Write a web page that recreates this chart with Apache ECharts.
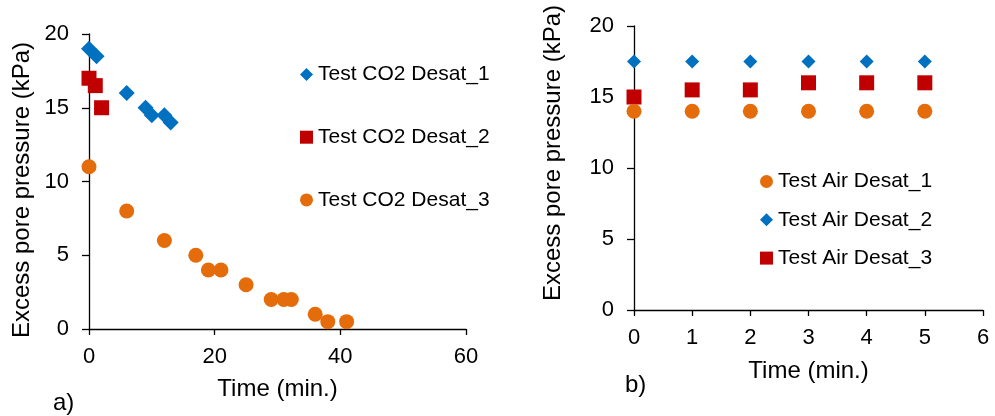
<!DOCTYPE html>
<html>
<head>
<meta charset="utf-8">
<script src="https://cdn.jsdelivr.net/npm/echarts@6/dist/echarts.min.js"></script>
<style>html,body{margin:0;padding:0;background:#fff}#c{width:995px;height:416px}</style>
</head>
<body>
<div id="c"></div>
<script>
// Panel a) CO2 desaturation tests: [time (min), excess pore pressure (kPa)]
var co2Desat1 = [[0,19],[1.2,18.5],[6,16],[9,15],[10,14.5],[12,14.5],[13,14]];
var co2Desat2 = [[0,17],[1,16.5],[2,15]];
var co2Desat3 = [[0,11],[6,8],[12,6],[17,5],[19,4],[21,4],[25,3],[29,2],[31,2],[32.2,2],[36,1],[38,0.5],[41,0.5]];
// Panel b) Air desaturation tests
var airTimes = [0,1,2,3,4,5];
var airDesat1 = [14,14,14,14,14,14];
var airDesat2 = [17.5,17.5,17.5,17.5,17.5,17.5];
var airDesat3 = [15,15.5,15.5,16,16,16];

var names = {
  c1:'Test CO2 Desat_1', c2:'Test CO2 Desat_2', c3:'Test CO2 Desat_3',
  a1:'Test Air Desat_1', a2:'Test Air Desat_2', a3:'Test Air Desat_3'
};
var BLUE='#0070C0', RED='#C00000', ORANGE='#E46C0A';
var FONT='Liberation Sans, Arial, sans-serif';

function pair(xs, ys){ return xs.map(function(x,i){return [x, ys[i]];}); }

function xAxisCfg(gi, max, interval, gap){
  return {
    gridIndex: gi, type:'value', min:0, max:max, interval:interval,
    name:'Time (min.)', nameLocation:'middle', nameGap:gap,
    nameTextStyle:{fontFamily:FONT, fontSize:24, color:'#000'},
    axisLine:{show:true, onZero:false, lineStyle:{color:'#000', width:1.3}},
    axisTick:{show:true, inside:false, length:6, lineStyle:{color:'#000', width:1.3}},
    axisLabel:{fontFamily:FONT, fontSize:22, color:'#000', margin:17},
    splitLine:{show:false}
  };
}
function yAxisCfg(gi){
  return {
    gridIndex: gi, type:'value', min:0, max:20, interval:5,
    axisLine:{show:true, onZero:false, lineStyle:{color:'#000', width:1.3}},
    axisTick:{show:true, inside:false, length:7, lineStyle:{color:'#000', width:1.3}},
    axisLabel:{fontFamily:FONT, fontSize:22, color:'#000', margin:20},
    splitLine:{show:false}
  };
}

var chart = echarts.init(document.getElementById('c'), null, {renderer:'canvas'});
chart.setOption({
  animation:false,
  backgroundColor:'#fff',
  grid:[
    {left:89, right:529, top:34, bottom:87},
    {left:634, right:12, top:26, bottom:106}
  ],
  xAxis:[xAxisCfg(0,60,20,48), xAxisCfg(1,6,1,49)],
  yAxis:[yAxisCfg(0), yAxisCfg(1)],
  legend:[
    {
      orient:'vertical', left:295, top:59, itemWidth:13, itemHeight:13, itemGap:41.7,
      textStyle:{fontFamily:FONT, fontSize:21, color:'#000', lineHeight:21},
      data:[names.c1, names.c2, names.c3]
    },
    {
      orient:'vertical', left:755, top:166, itemWidth:13, itemHeight:13, itemGap:17.3,
      textStyle:{fontFamily:FONT, fontSize:21, color:'#000', lineHeight:21},
      data:[names.a1, names.a2, names.a3]
    }
  ],
  graphic:[
    {type:'text', x:22, y:190, rotation:Math.PI/2,
     style:{text:'Excess pore pressure (kPa)', font:'24px '+FONT, fill:'#000', align:'center', verticalAlign:'middle'}},
    {type:'text', x:553, y:153, rotation:Math.PI/2,
     style:{text:'Excess pore pressure (kPa)', font:'24px '+FONT, fill:'#000', align:'center', verticalAlign:'middle'}},
    {type:'text', x:53, y:403,
     style:{text:'a)', font:'24px '+FONT, fill:'#000', align:'left', verticalAlign:'middle'}},
    {type:'text', x:625, y:385,
     style:{text:'b)', font:'24px '+FONT, fill:'#000', align:'left', verticalAlign:'middle'}}
  ],
  series:[
    {name:names.c1, type:'scatter', xAxisIndex:0, yAxisIndex:0, symbol:'diamond', symbolSize:16,
     itemStyle:{color:BLUE, opacity:1}, data:co2Desat1},
    {name:names.c2, type:'scatter', xAxisIndex:0, yAxisIndex:0, symbol:'rect', symbolSize:15,
     itemStyle:{color:RED, opacity:1}, data:co2Desat2},
    {name:names.c3, type:'scatter', xAxisIndex:0, yAxisIndex:0, symbol:'circle', symbolSize:15,
     itemStyle:{color:ORANGE, opacity:1}, data:co2Desat3},
    {name:names.a2, type:'scatter', xAxisIndex:1, yAxisIndex:1, symbol:'diamond', symbolSize:14,
     itemStyle:{color:BLUE, opacity:1}, data:pair(airTimes, airDesat2)},
    {name:names.a3, type:'scatter', xAxisIndex:1, yAxisIndex:1, symbol:'rect', symbolSize:15,
     itemStyle:{color:RED, opacity:1}, data:pair(airTimes, airDesat3)},
    {name:names.a1, type:'scatter', xAxisIndex:1, yAxisIndex:1, symbol:'circle', symbolSize:15,
     itemStyle:{color:ORANGE, opacity:1}, data:pair(airTimes, airDesat1)}
  ]
});
</script>
</body>
</html>
